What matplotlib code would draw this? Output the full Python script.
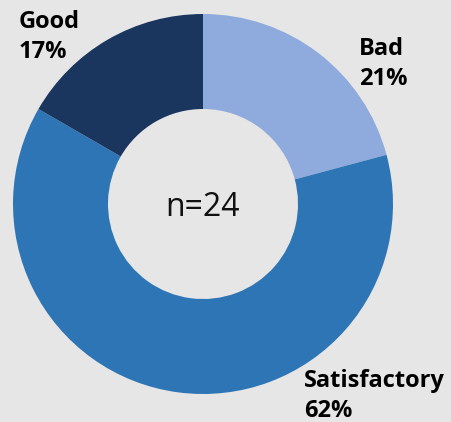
import matplotlib
matplotlib.use("Agg")
import matplotlib.pyplot as plt

# données (n=24)
categories = ["Bad", "Satisfactory", "Good"]
counts = [5, 15, 4]
percent_labels = ["21%", "62%", "17%"]
colors = ["#8faadc", "#2e75b6", "#1a365f"]
n_total = sum(counts)

BG = "#e7e6e6"
W, H = 452, 422
cx, cy, R = 203, 218, 190          # centre / rayon en pixels (y depuis le bas)

fig = plt.figure(figsize=(W / 100, H / 100), dpi=100, facecolor=BG)
ax = fig.add_axes([(cx - R) / W, (cy - R) / H, 2 * R / W, 2 * R / H])
ax.set_facecolor(BG)
ax.pie(counts, colors=colors, startangle=90, counterclock=False, radius=1,
       wedgeprops=dict(width=0.5, edgecolor="none"))
ax.set_xlim(-1, 1); ax.set_ylim(-1, 1)
ax.set_aspect("equal")
ax.axis("off")

ax.text(0, -0.02, f"n={n_total}", ha="center", va="center",
        fontsize=23, family="Open Sans", color="#111111")

# étiquettes (coin haut-gauche en pixels)
label_pos = {"Bad": (359, 37), "Satisfactory": (304, 369), "Good": (19, 10)}
for cat, pct in zip(categories, percent_labels):
    x, y = label_pos[cat]
    fig.text(x / W, 1 - y / H, f"{cat}\n{pct}", ha="left", va="top",
             fontsize=17, fontweight="bold", family="Open Sans",
             linespacing=1.36, color="black")

fig.savefig("out.png", dpi=100, facecolor=BG)
